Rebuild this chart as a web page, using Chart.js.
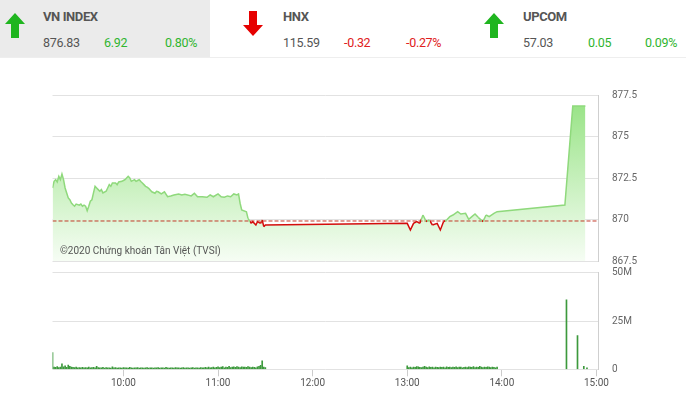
<!DOCTYPE html>
<html><head><meta charset="utf-8">
<script src="https://cdn.jsdelivr.net/npm/chart.js@4.4.1/dist/chart.umd.min.js"></script>
<style>
html,body{margin:0;padding:0;background:#fff;width:686px;height:393px;overflow:hidden;font-family:Roboto,Arial,sans-serif;}
#hdrline{position:absolute;left:0;top:57px;width:686px;height:1px;background:#eeeeee;}
#vnbg{position:absolute;left:0;top:0;width:210px;height:57px;background:#ebebeb;}
.t{position:absolute;white-space:nowrap;line-height:1;}
.nm{font-weight:bold;font-size:13px;color:#555;letter-spacing:-0.4px;}
.v{font-size:12.5px;letter-spacing:-0.3px;}
.g{color:#555}.up{color:#2fb52f}.dn{color:#e02020}
svg.ar{position:absolute;}
#pc{position:absolute;left:0;top:85px;}
#vc{position:absolute;left:0;top:262px;}
#copy{position:absolute;left:60px;top:245px;font-size:10px;color:#555;white-space:nowrap;}
</style></head>
<body>
<div id="vnbg"></div>
<div id="hdrline"></div>
<svg class="ar" style="left:5px;top:13px" width="20" height="25" viewBox="0 0 20 25"><path d="M10 0 L20 11 L14 11 L14 25 L6 25 L6 11 L0 11 Z" fill="#1fb51f"/></svg>
<span class="t nm" style="left:43px;top:10px">VN INDEX</span>
<span class="t v g" style="left:43px;top:37px">876.83</span>
<span class="t v up" style="left:104px;top:37px">6.92</span>
<span class="t v up" style="left:165px;top:37px">0.80%</span>
<svg class="ar" style="left:243px;top:11px" width="20" height="25" viewBox="0 0 20 25"><path d="M10 25 L20 14 L14 14 L14 0 L6 0 L6 14 L0 14 Z" fill="#e60000"/></svg>
<span class="t nm" style="left:283px;top:10px">HNX</span>
<span class="t v g" style="left:283px;top:37px">115.59</span>
<span class="t v dn" style="left:344px;top:37px">-0.32</span>
<span class="t v dn" style="left:406px;top:37px">-0.27%</span>
<svg class="ar" style="left:484px;top:13px" width="20" height="25" viewBox="0 0 20 25"><path d="M10 0 L20 11 L14 11 L14 25 L6 25 L6 11 L0 11 Z" fill="#1fb51f"/></svg>
<span class="t nm" style="left:523px;top:10px">UPCOM</span>
<span class="t v g" style="left:523px;top:37px">57.03</span>
<span class="t v up" style="left:588px;top:37px">0.05</span>
<span class="t v up" style="left:645px;top:37px">0.09%</span>

<canvas id="pc" width="686" height="185"></canvas>
<canvas id="vc" width="686" height="131"></canvas>
<div id="copy">©2020 Chứng khoán Tân Việt (TVSI)</div>

<script>
// ---------- DATA ----------
const refPrice = 869.91;
const xStart = '9:15';
const xEnd = '15:01';
const xTickLabels = ['10:00','11:00','12:00','13:00','14:00','15:00'];
const priceTicks = [867.5, 870, 872.5, 875, 877.5];
const volTicks = [0, 25, 50];

const priceTimes = ['9:15','9:16','9:17','9:18','9:19','9:20','9:21','9:22','9:23','9:24','9:25','9:26','9:27','9:28','9:29','9:30',
'9:32','9:33','9:34','9:35','9:36','9:37','9:38','9:39','9:40','9:41','9:42','9:43','9:44','9:45','9:46','9:47','9:49','9:50',
'9:51','9:52','9:53','9:54','9:55','9:56','9:57','9:59','10:00','10:01','10:02','10:03','10:04','10:05','10:07','10:08','10:09','10:10',
'10:11','10:12','10:13','10:14','10:15','10:16','10:18','10:20','10:21','10:22','10:24','10:26','10:28','10:30','10:32','10:35','10:37','10:39',
'10:43','10:45','10:47','10:50','10:53','10:55','10:57','11:00','11:02','11:04','11:06','11:08','11:10','11:12','11:13','11:14','11:15','11:18',
'11:19','11:21','11:22','11:24','11:25','11:27','11:28','11:29','11:30',
'13:00','13:02','13:04','13:06','13:08','13:10','13:12','13:14','13:16','13:19','13:21','13:23','13:25','13:27','13:29','13:32','13:34','13:37',
'13:39','13:41','13:43','13:45','13:48','13:50','13:52','13:55','13:57','14:40','14:45','14:53'];
const priceValues = [871.90,872.30,872.40,872.26,872.60,872.40,872.74,872.40,871.90,871.60,871.30,871.19,870.99,870.89,870.80,870.93,
870.86,870.93,870.80,870.86,870.80,870.53,870.80,871.10,871.19,871.60,872.00,871.90,871.80,871.70,871.80,871.60,871.70,871.90,
872.10,872.00,872.20,872.20,872.20,872.10,872.26,872.30,872.35,872.40,872.50,872.60,872.50,872.30,872.40,872.30,872.35,872.40,
872.29,872.20,872.10,872.00,871.95,871.88,871.67,871.58,871.70,871.67,871.54,871.67,871.37,871.42,871.48,871.54,871.48,871.52,
871.42,871.58,871.37,871.37,871.34,871.48,871.37,871.54,871.37,871.34,871.42,871.37,871.54,871.48,871.54,870.98,870.57,870.47,
870.07,869.77,869.87,869.67,869.87,869.77,869.97,869.57,869.67,
869.77,869.37,869.77,869.87,869.77,870.27,869.87,869.97,869.67,869.77,869.37,869.87,869.97,870.17,870.27,870.47,870.33,870.37,
870.01,870.17,870.33,870.13,869.87,870.27,870.17,870.37,870.47,870.87,876.83,876.83];

// volumes in millions of shares, one per minute
const volMorningStart = '9:15';
const volMorning = [8.7,1.2,1.0,1.4,0.9,1.1,2.8,1.3,1.8,1.0,2.2,1.5,1.2,1.0,0.9,1.1,
0.8,0.9,0.7,1.0,0.8,0.9,0.7,1.2,0.8,0.9,
1.0,0.8,1.5,0.9,0.7,0.8,1.0,0.6,0.9,0.7,
0.8,0.6,1.3,0.7,0.9,0.6,0.8,0.7,0.6,0.9,
0.7,0.8,0.6,1.0,0.7,0.6,0.8,0.7,0.9,0.6,
0.7,0.8,0.6,0.7,0.9,0.6,0.8,0.7,0.6,0.8,
0.7,0.9,0.6,0.7,0.8,0.6,1.0,0.7,0.6,0.8,
0.7,0.6,0.9,0.7,0.8,0.6,0.7,0.9,0.6,0.7,
0.8,0.6,0.7,0.9,0.6,0.8,0.7,0.6,0.9,0.7,
0.8,1.0,0.7,1.2,0.8,0.9,1.1,0.7,1.0,1.3,
0.9,1.1,1.4,0.8,1.2,1.0,1.5,0.9,1.1,1.3,
1.0,1.4,1.2,0.9,1.3,1.1,1.2,1.0,1.4,1.1,
0.9,1.2,1.0,0.8,1.3,1.5,2.0,4.4,1.2,0.9];
const volAfternoonStart = '13:00';
const volAfternoon = [1.8,0.9,1.1,0.8,1.2,1.0,1.4,1.3,1.0,0.9,
1.2,1.5,1.1,0.9,1.3,1.0,1.2,0.8,1.1,1.0,
0.9,1.2,1.0,1.1,0.8,1.3,1.0,1.2,0.9,1.1,
1.0,1.3,0.9,1.2,1.1,0.8,1.0,1.2,0.9,1.3,
1.1,1.0,1.4,0.9,1.2,1.0,1.5,1.1,0.9,1.2,
1.0,1.3,1.1,0.9,1.2,1.0,0.8,1.1];
const volCloseTimes = ['14:41','14:48','14:52','14:54'];
const volCloseValues = [36, 17.5, 1.5, 0.8];

// ---------- helpers ----------
const toMin = s => { const [h,m] = s.split(':').map(Number); return h*60+m; };
const X_MIN = toMin(xStart), X_MAX = toMin(xEnd);
const GREEN = '#8fd97c', RED = '#d40c0c';
const FONT = 'Roboto, Arial, sans-serif';

const pricePts = priceTimes.map((t,i)=>({x:toMin(t), y:priceValues[i]}));
const volPts = [];
volMorning.forEach((v,i)=>volPts.push({x:toMin(volMorningStart)+i, y:v}));
volAfternoon.forEach((v,i)=>volPts.push({x:toMin(volAfternoonStart)+i, y:v}));
volCloseTimes.forEach((t,i)=>volPts.push({x:toMin(t), y:volCloseValues[i]}));

function segColor(c){
  const a=c.p0.parsed.y, b=c.p1.parsed.y, r=refPrice;
  if(a>=r && b>=r) return GREEN;
  if(a<r && b<r) return RED;
  const t=(r-a)/(b-a);
  const g=c.chart.ctx.createLinearGradient(c.p0.x,0,c.p1.x,0);
  const c0=a>=r?GREEN:RED, c1=a>=r?RED:GREEN;
  g.addColorStop(0,c0); g.addColorStop(t,c0); g.addColorStop(t,c1); g.addColorStop(1,c1);
  return g;
}
function fillGrad(ctx){
  const ca=ctx.chart.chartArea;
  if(!ca) return 'rgba(180,235,170,0.6)';
  const g=ctx.chart.ctx.createLinearGradient(0,ca.top,0,ca.bottom);
  g.addColorStop(0,'#94e281');
  g.addColorStop(1,'#f6fdf4');
  return g;
}
const noPad = s => { s.width=88; s.paddingTop=0; s.paddingBottom=0; };

new Chart(document.getElementById('pc'),{
  type:'line',
  data:{datasets:[
    {data:pricePts, borderWidth:0, borderColor:'rgba(0,0,0,0)', pointRadius:0, tension:0, fill:'start',
     backgroundColor:fillGrad, order:3},
    {data:[{x:X_MIN,y:refPrice},{x:X_MAX,y:refPrice}], borderColor:'#c23a2a', borderDash:[4,2], borderWidth:1,
     pointRadius:0, fill:false, order:2},
    {data:pricePts, borderColor:GREEN, borderWidth:1.5, pointRadius:0, tension:0, fill:false,
     segment:{borderColor:segColor}, order:1}
  ]},
  options:{
    responsive:false, animation:false, maintainAspectRatio:false,
    layout:{padding:{left:52.5, top:10, bottom:9, right:0}},
    plugins:{legend:{display:false}, tooltip:{enabled:false}},
    scales:{
      x:{type:'linear', min:X_MIN, max:X_MAX, display:false},
      y:{position:'right', min:867.5, max:877.5,
         afterBuildTicks:s=>{s.ticks=priceTicks.map(v=>({value:v}));},
         afterFit:noPad,
         grid:{color:'#e2e2e2', drawTicks:false},
         border:{color:'#cfcfcf'},
         ticks:{padding:14, color:'#666', font:{size:10, family:FONT}, callback:v=>String(v)}}
    }
  }
});

new Chart(document.getElementById('vc'),{
  type:'bar',
  data:{datasets:[{data:volPts, backgroundColor:'#3c993c', barThickness:1, borderWidth:0, grouped:false}]},
  options:{
    responsive:false, animation:false, maintainAspectRatio:false,
    layout:{padding:{left:52.5, top:10.7, bottom:0, right:0}},
    plugins:{legend:{display:false}, tooltip:{enabled:false}},
    scales:{
      x:{type:'linear', min:X_MIN, max:X_MAX, offset:false,
         afterBuildTicks:s=>{s.ticks=xTickLabels.map(t=>({value:toMin(t)}));},
         afterFit:s=>{s.height=23.7;},
         grid:{drawOnChartArea:false, drawTicks:true, tickLength:7, color:'#cccccc', offset:false},
         border:{display:false},
         ticks:{color:'#555', font:{size:10, family:FONT}, padding:1, maxRotation:0, autoSkip:false,
                callback:(v,i)=>xTickLabels[i]}},
      y:{position:'right', min:0, max:50,
         afterBuildTicks:s=>{s.ticks=volTicks.map(v=>({value:v}));},
         afterFit:noPad,
         grid:{color:'#e2e2e2', drawTicks:false},
         border:{color:'#cfcfcf'},
         ticks:{padding:14, color:'#666', font:{size:10, family:FONT}, callback:v=>v===0?'0':v+'M'}}
    }
  }
});
</script>
</body></html>
